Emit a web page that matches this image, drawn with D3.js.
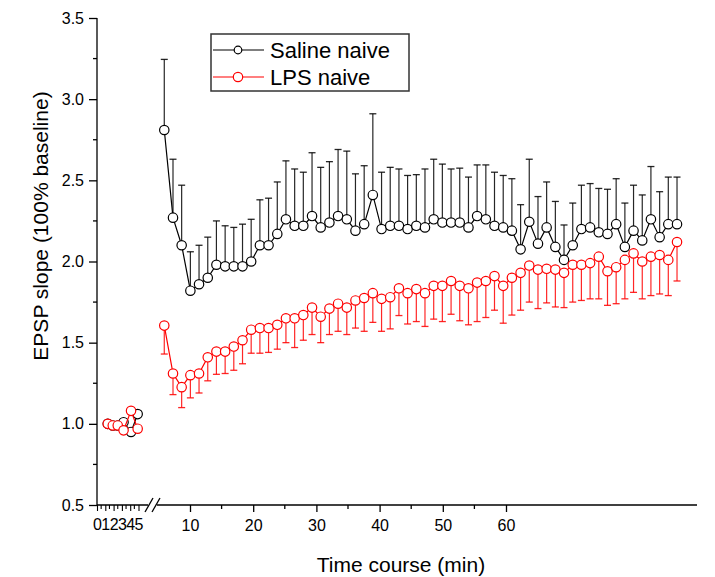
<!DOCTYPE html>
<html>
<head>
<meta charset="utf-8">
<script src="https://cdn.jsdelivr.net/npm/d3@7"></script>
<style>
  html, body { margin: 0; padding: 0; background: #fff; }
  svg text { font-family: "Liberation Sans", Arial, sans-serif; fill: #000; }
</style>
</head>
<body>
<svg id="chart" width="715" height="577"></svg>
<script>
// Baseline recordings (before the break in the time axis)
const baselineTimes = [1.3, 1.9, 2.5, 3.2, 4.1, 4.9];
const salineBaseline = [1.00, 0.99, 0.99, 1.01, 0.95, 1.06];
const salineBaselineSem = [0.01, 0.01, 0.01, 0.02, 0.02, 0.02];
const lpsBaseline = [1.00, 0.99, 0.99, 0.96, 1.08, 0.97];
const lpsBaselineSem = [0.01, 0.01, 0.01, 0.02, 0.02, 0.02];

// Post-induction recordings (minutes)
const postTimes = [5.93, 7.31, 8.68, 10.06, 11.43, 12.81, 14.18, 15.56, 16.93, 18.31,
  19.68, 21.06, 22.43, 23.81, 25.18, 26.56, 27.93, 29.31, 30.68, 32.06,
  33.43, 34.81, 36.18, 37.56, 38.93, 40.31, 41.68, 43.06, 44.43, 45.81,
  47.18, 48.56, 49.93, 51.31, 52.68, 54.06, 55.43, 56.81, 58.18, 59.56,
  60.93, 62.31, 63.68, 65.06, 66.43, 67.81, 69.18, 70.56, 71.93, 73.31,
  74.68, 76.06, 77.43, 78.81, 80.18, 81.56, 82.93, 84.31, 85.68, 87.06];

const salinePost = [2.81, 2.27, 2.10, 1.82, 1.86, 1.90, 1.98, 1.97, 1.97, 1.97,
  2.00, 2.10, 2.10, 2.17, 2.26, 2.22, 2.22, 2.28, 2.21, 2.24,
  2.28, 2.26, 2.19, 2.23, 2.41, 2.20, 2.22, 2.22, 2.20, 2.22,
  2.21, 2.26, 2.24, 2.24, 2.24, 2.21, 2.28, 2.26, 2.22, 2.21,
  2.19, 2.075, 2.245, 2.11, 2.21, 2.09, 2.01, 2.10, 2.20, 2.21,
  2.18, 2.17, 2.23, 2.09, 2.19, 2.13, 2.26, 2.15, 2.23, 2.23];
const salinePostSem = [0.435, 0.36, 0.37, 0.24, 0.24, 0.25, 0.27, 0.25, 0.24, 0.26,
  0.26, 0.28, 0.29, 0.32, 0.36, 0.35, 0.33, 0.39, 0.37, 0.375,
  0.41, 0.42, 0.35, 0.36, 0.50, 0.35, 0.36, 0.35, 0.33, 0.315,
  0.36, 0.37, 0.36, 0.33, 0.335, 0.31, 0.315, 0.335, 0.33, 0.32,
  0.32, 0.275, 0.385, 0.29, 0.28, 0.28, 0.215, 0.26, 0.27, 0.27,
  0.27, 0.275, 0.28, 0.27, 0.28, 0.28, 0.325, 0.28, 0.29, 0.29];

const lpsPost = [1.605, 1.31, 1.226, 1.30, 1.31, 1.41, 1.445, 1.445, 1.476, 1.515,
  1.58, 1.59, 1.59, 1.61, 1.65, 1.65, 1.67, 1.716, 1.66, 1.71,
  1.74, 1.716, 1.76, 1.775, 1.805, 1.77, 1.78, 1.835, 1.805, 1.83,
  1.805, 1.85, 1.85, 1.88, 1.85, 1.835, 1.87, 1.88, 1.91, 1.85,
  1.90, 1.93, 1.975, 1.95, 1.955, 1.95, 1.93, 1.98, 1.98, 1.99,
  2.03, 1.94, 1.965, 2.01, 2.05, 2.00, 2.03, 2.04, 2.01, 2.12];
const lpsPostSem = [0.175, 0.13, 0.126, 0.14, 0.12, 0.145, 0.14, 0.135, 0.146, 0.145,
  0.145, 0.155, 0.15, 0.15, 0.15, 0.18, 0.155, 0.166, 0.16, 0.16,
  0.17, 0.166, 0.17, 0.205, 0.18, 0.20, 0.195, 0.168, 0.19, 0.20,
  0.205, 0.205, 0.22, 0.205, 0.215, 0.225, 0.24, 0.225, 0.21, 0.23,
  0.23, 0.23, 0.225, 0.24, 0.21, 0.23, 0.214, 0.23, 0.22, 0.22,
  0.26, 0.21, 0.225, 0.24, 0.24, 0.23, 0.24, 0.24, 0.22, 0.24];

const yTicks = [0.5, 1.0, 1.5, 2.0, 2.5, 3.0, 3.5];
const leftTicks = [0, 1, 2, 3, 4, 5];
const rightTicks = [10, 20, 30, 40, 50, 60];

const seriesNames = ["Saline naive", "LPS naive"];
const seriesColors = ["#000000", "#ff0000"];

const svg = d3.select("#chart");

const y = d3.scaleLinear().domain([0.5, 3.5]).range([505, 18]);
const xLeft = d3.scaleLinear().domain([0, 5]).range([97, 138.5]);
const xRight = d3.scaleLinear().domain([10, 60]).range([190, 506]);

// ---- Y axis ----
const yAxis = d3.axisLeft(y).tickValues(yTicks).tickSize(8).tickPadding(5)
  .tickFormat(d3.format(".1f"));
const gy = svg.append("g").attr("transform", "translate(97,0)").call(yAxis);
gy.select(".domain").attr("stroke", "#000").attr("stroke-width", 1.3).attr("d", "M0,505V18");
gy.selectAll(".tick line").attr("stroke-width", 1.3);
gy.selectAll("text").style("font-size", "16px");
// minor ticks
svg.append("g").selectAll("line")
  .data(d3.range(0.75, 3.5, 0.5))
  .join("line")
  .attr("x1", 97).attr("x2", 93)
  .attr("y1", d => y(d)).attr("y2", d => y(d))
  .attr("stroke", "#000").attr("stroke-width", 1.3);

// ---- X axis, left (baseline) segment ----
const xAxisL = d3.axisBottom(xLeft).tickValues(leftTicks).tickSize(6).tickPadding(8)
  .tickFormat(d3.format("d"));
const gxl = svg.append("g").attr("transform", "translate(0,505)").call(xAxisL);
gxl.select(".domain").attr("d", "M97,0H148").attr("stroke-width", 1.3);
gxl.selectAll(".tick line").attr("stroke-width", 1.1);
gxl.selectAll("text").style("font-size", "16px").attr("dy", "0.71em");
svg.append("g").selectAll("line")
  .data(d3.range(0.5, 5, 1))
  .join("line")
  .attr("x1", d => xLeft(d)).attr("x2", d => xLeft(d))
  .attr("y1", 505).attr("y2", 509)
  .attr("stroke", "#000").attr("stroke-width", 1.1);

// axis break marks
const breakG = svg.append("g").attr("stroke", "#000").attr("stroke-width", 1.3);
breakG.append("line").attr("x1", 145).attr("y1", 512).attr("x2", 153).attr("y2", 498);
breakG.append("line").attr("x1", 152).attr("y1", 512).attr("x2", 160).attr("y2", 498);

// ---- X axis, right (post-induction) segment ----
const xAxisR = d3.axisBottom(xRight).tickValues(rightTicks).tickSize(7).tickPadding(8)
  .tickFormat(d3.format("d"));
const gxr = svg.append("g").attr("transform", "translate(0,505)").call(xAxisR);
gxr.select(".domain").attr("d", "M157,0H697").attr("stroke-width", 1.3);
gxr.selectAll(".tick line").attr("stroke-width", 1.3);
gxr.selectAll("text").style("font-size", "16px");
svg.append("g").selectAll("line")
  .data(d3.range(15, 60, 10))
  .join("line")
  .attr("x1", d => xRight(d)).attr("x2", d => xRight(d))
  .attr("y1", 505).attr("y2", 509)
  .attr("stroke", "#000").attr("stroke-width", 1.3);

// ---- Axis titles ----
svg.append("text")
  .attr("x", 401).attr("y", 572)
  .attr("text-anchor", "middle")
  .style("font-size", "21px")
  .text("Time course (min)");
svg.append("text")
  .attr("transform", "translate(48,226) rotate(-90)")
  .attr("text-anchor", "middle")
  .style("font-size", "21px")
  .text("EPSP slope (100% baseline)");

// ---- Series drawing ----
const capHalf = 3.5;
const rMarker = 4.7;

function drawSeries(times, xs, means, sems, color, dir) {
  const pts = times.map((t, i) => ({ x: xs(t), m: means[i], e: means[i] + dir * sems[i] }));
  const g = svg.append("g");
  // error bars (one-sided)
  g.selectAll("line.stem").data(pts).join("line").attr("class", "stem")
    .attr("x1", d => d.x).attr("x2", d => d.x)
    .attr("y1", d => y(d.m)).attr("y2", d => y(d.e))
    .attr("stroke", color).attr("stroke-width", 1.2).attr("stroke-opacity", 0.85);
  g.selectAll("line.cap").data(pts).join("line").attr("class", "cap")
    .attr("x1", d => d.x - capHalf).attr("x2", d => d.x + capHalf)
    .attr("y1", d => y(d.e)).attr("y2", d => y(d.e))
    .attr("stroke", color).attr("stroke-width", 1.3).attr("stroke-opacity", 0.85);
  // connecting line
  g.append("path").datum(pts)
    .attr("d", d3.line().x(d => d.x).y(d => y(d.m)))
    .attr("fill", "none").attr("stroke", color).attr("stroke-width", 1.2);
  // markers
  g.selectAll("circle").data(pts).join("circle")
    .attr("cx", d => d.x).attr("cy", d => y(d.m)).attr("r", rMarker)
    .attr("fill", "#fff").attr("stroke", color).attr("stroke-width", 1.2);
}

drawSeries(baselineTimes, xLeft, salineBaseline, salineBaselineSem, seriesColors[0], 1);
drawSeries(postTimes, xRight, salinePost, salinePostSem, seriesColors[0], 1);
drawSeries(baselineTimes, xLeft, lpsBaseline, lpsBaselineSem, seriesColors[1], -1);
drawSeries(postTimes, xRight, lpsPost, lpsPostSem, seriesColors[1], -1);

// ---- Legend ----
const legend = svg.append("g");
legend.append("rect")
  .attr("x", 211).attr("y", 34).attr("width", 198).attr("height", 57)
  .attr("fill", "#fff").attr("stroke", "#333").attr("stroke-width", 1.5);
seriesNames.forEach((name, i) => {
  const cy = 50 + i * 27;
  legend.append("line").attr("x1", 213).attr("x2", 264).attr("y1", cy).attr("y2", cy)
    .attr("stroke", seriesColors[i]).attr("stroke-width", 1.2);
  legend.append("circle").attr("cx", 238).attr("cy", cy).attr("r", i === 0 ? 3.8 : 4.7)
    .attr("fill", "#fff").attr("stroke", seriesColors[i]).attr("stroke-width", 1.2);
  legend.append("text").attr("x", 270).attr("y", cy).attr("dy", "0.36em")
    .style("font-size", "22px").text(name);
});
</script>
</body>
</html>
